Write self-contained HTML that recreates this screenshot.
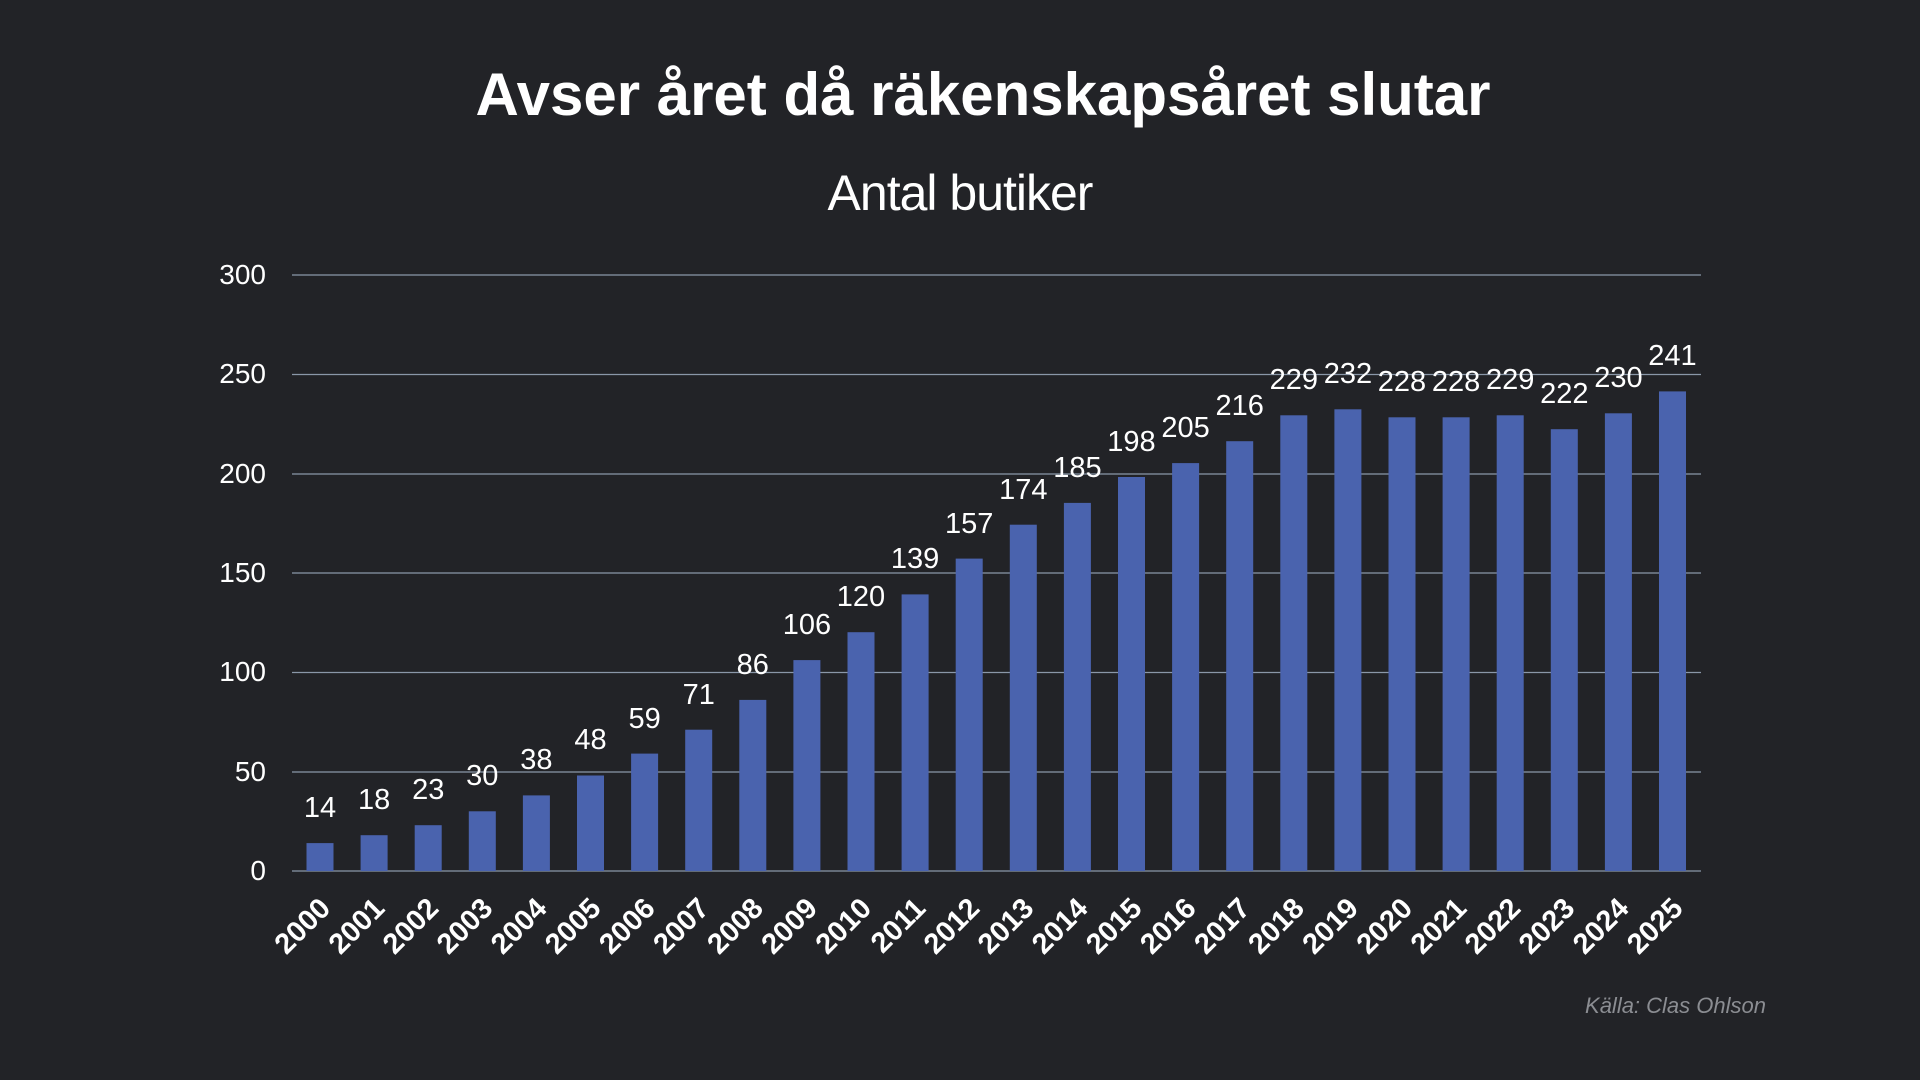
<!DOCTYPE html>
<html><head><meta charset="utf-8"><style>
html,body{margin:0;padding:0;background:#222327;}
svg{display:block}
</style></head><body>
<svg width="1920" height="1080" xmlns="http://www.w3.org/2000/svg" font-family="Liberation Sans, sans-serif">
<rect width="1920" height="1080" fill="#222327"/>
<text x="983" y="115" text-anchor="middle" fill="#fff" font-size="60" font-weight="bold">Avser året då räkenskapsåret slutar</text>
<text x="960" y="210" text-anchor="middle" fill="#fff" font-size="50" letter-spacing="-1">Antal butiker</text>
<g stroke="#8a97a8" stroke-width="1.3">
<line x1="292" x2="1701" y1="275" y2="275"/>
<line x1="292" x2="1701" y1="374.5" y2="374.5"/>
<line x1="292" x2="1701" y1="474" y2="474"/>
<line x1="292" x2="1701" y1="573" y2="573"/>
<line x1="292" x2="1701" y1="672.5" y2="672.5"/>
<line x1="292" x2="1701" y1="772" y2="772"/>
<line x1="292" x2="1701" y1="871" y2="871"/>
</g>
<g fill="#fff" font-size="28" text-anchor="end">
<text x="266" y="284">300</text><text x="266" y="383">250</text><text x="266" y="483">200</text>
<text x="266" y="582">150</text><text x="266" y="681">100</text><text x="266" y="781">50</text><text x="266" y="880">0</text>
</g>
<g fill="#4a63ae">
<rect x="306.5" y="843.1" width="27" height="27.9"/>
<rect x="360.6" y="835.2" width="27" height="35.8"/>
<rect x="414.7" y="825.2" width="27" height="45.8"/>
<rect x="468.8" y="811.3" width="27" height="59.7"/>
<rect x="522.9" y="795.4" width="27" height="75.6"/>
<rect x="577" y="775.5" width="27" height="95.5"/>
<rect x="631.1" y="753.6" width="27" height="117.4"/>
<rect x="685.2" y="729.7" width="27" height="141.3"/>
<rect x="739.3" y="699.9" width="27" height="171.1"/>
<rect x="793.4" y="660.1" width="27" height="210.9"/>
<rect x="847.5" y="632.2" width="27" height="238.8"/>
<rect x="901.6" y="594.4" width="27" height="276.6"/>
<rect x="955.7" y="558.6" width="27" height="312.4"/>
<rect x="1009.8" y="524.7" width="27" height="346.3"/>
<rect x="1063.9" y="502.9" width="27" height="368.1"/>
<rect x="1118" y="477" width="27" height="394"/>
<rect x="1172.1" y="463.1" width="27" height="407.9"/>
<rect x="1226.2" y="441.2" width="27" height="429.8"/>
<rect x="1280.3" y="415.3" width="27" height="455.7"/>
<rect x="1334.4" y="409.3" width="27" height="461.7"/>
<rect x="1388.5" y="417.3" width="27" height="453.7"/>
<rect x="1442.6" y="417.3" width="27" height="453.7"/>
<rect x="1496.7" y="415.3" width="27" height="455.7"/>
<rect x="1550.8" y="429.2" width="27" height="441.8"/>
<rect x="1604.9" y="413.3" width="27" height="457.7"/>
<rect x="1659" y="391.4" width="27" height="479.6"/>
</g>
<g fill="#fff" font-size="29" text-anchor="middle">
<text x="320" y="817">14</text>
<text x="374.1" y="809">18</text>
<text x="428.2" y="799">23</text>
<text x="482.3" y="785">30</text>
<text x="536.4" y="769">38</text>
<text x="590.5" y="749">48</text>
<text x="644.6" y="728">59</text>
<text x="698.7" y="704">71</text>
<text x="752.8" y="674">86</text>
<text x="806.9" y="634">106</text>
<text x="861" y="606">120</text>
<text x="915.1" y="568">139</text>
<text x="969.2" y="533">157</text>
<text x="1023.3" y="499">174</text>
<text x="1077.4" y="477">185</text>
<text x="1131.5" y="451">198</text>
<text x="1185.6" y="437">205</text>
<text x="1239.7" y="415">216</text>
<text x="1293.8" y="389">229</text>
<text x="1347.9" y="383">232</text>
<text x="1402" y="391">228</text>
<text x="1456.1" y="391">228</text>
<text x="1510.2" y="389">229</text>
<text x="1564.3" y="403">222</text>
<text x="1618.4" y="387">230</text>
<text x="1672.5" y="365">241</text>
</g>
<g fill="#fff" font-size="29" font-weight="bold" text-anchor="end">
<text transform="translate(332,910) rotate(-45)">2000</text>
<text transform="translate(386.1,910) rotate(-45)">2001</text>
<text transform="translate(440.2,910) rotate(-45)">2002</text>
<text transform="translate(494.3,910) rotate(-45)">2003</text>
<text transform="translate(548.4,910) rotate(-45)">2004</text>
<text transform="translate(602.5,910) rotate(-45)">2005</text>
<text transform="translate(656.6,910) rotate(-45)">2006</text>
<text transform="translate(710.7,910) rotate(-45)">2007</text>
<text transform="translate(764.8,910) rotate(-45)">2008</text>
<text transform="translate(818.9,910) rotate(-45)">2009</text>
<text transform="translate(873,910) rotate(-45)">2010</text>
<text transform="translate(927.1,910) rotate(-45)">2011</text>
<text transform="translate(981.2,910) rotate(-45)">2012</text>
<text transform="translate(1035.3,910) rotate(-45)">2013</text>
<text transform="translate(1089.4,910) rotate(-45)">2014</text>
<text transform="translate(1143.5,910) rotate(-45)">2015</text>
<text transform="translate(1197.6,910) rotate(-45)">2016</text>
<text transform="translate(1251.7,910) rotate(-45)">2017</text>
<text transform="translate(1305.8,910) rotate(-45)">2018</text>
<text transform="translate(1359.9,910) rotate(-45)">2019</text>
<text transform="translate(1414,910) rotate(-45)">2020</text>
<text transform="translate(1468.1,910) rotate(-45)">2021</text>
<text transform="translate(1522.2,910) rotate(-45)">2022</text>
<text transform="translate(1576.3,910) rotate(-45)">2023</text>
<text transform="translate(1630.4,910) rotate(-45)">2024</text>
<text transform="translate(1684.5,910) rotate(-45)">2025</text>
</g>
<text x="1766" y="1013" text-anchor="end" fill="#8b8d92" font-size="22" font-style="italic">Källa: Clas Ohlson</text>
</svg>
</body></html>
